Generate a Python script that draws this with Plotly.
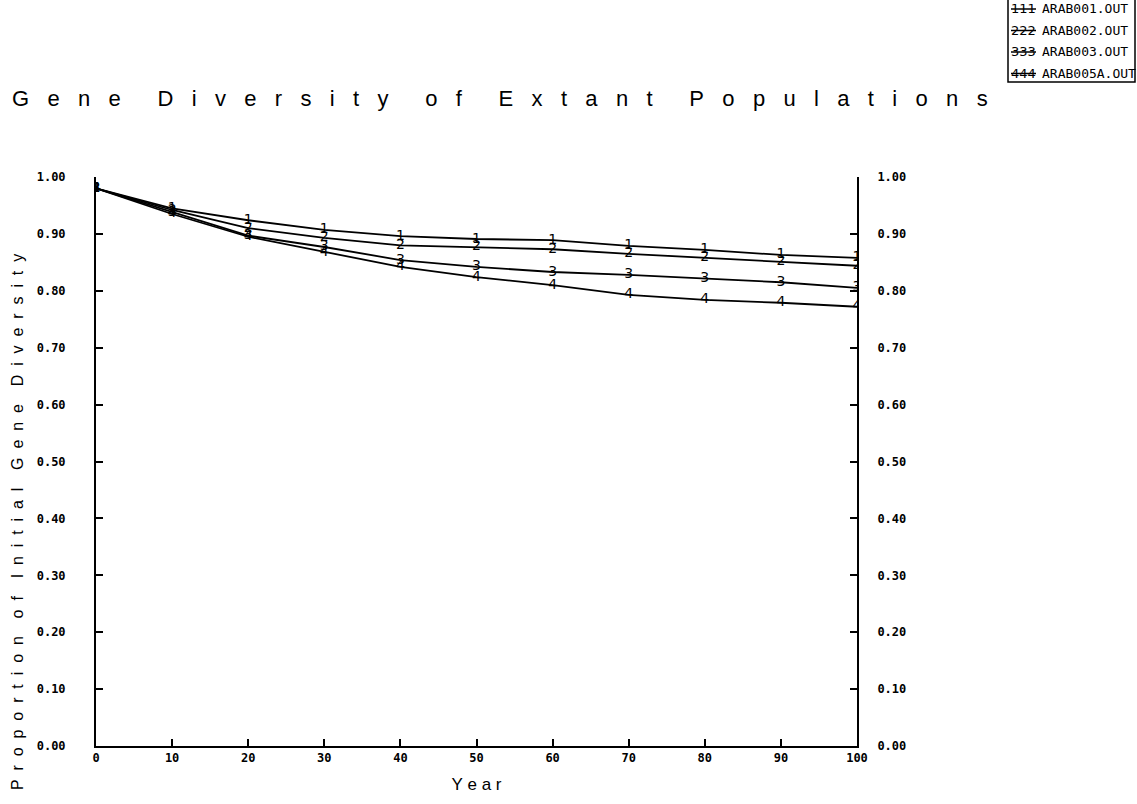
import plotly.graph_objects as go

# ---------------- data ----------------
years = [0, 10, 20, 30, 40, 50, 60, 70, 80, 90, 100]
arab001 = [0.980, 0.945, 0.924, 0.907, 0.896, 0.891, 0.889, 0.879, 0.872, 0.863, 0.858]
arab002 = [0.980, 0.942, 0.910, 0.893, 0.880, 0.877, 0.873, 0.865, 0.858, 0.851, 0.844]
arab003 = [0.980, 0.938, 0.897, 0.877, 0.854, 0.842, 0.833, 0.828, 0.822, 0.815, 0.805]
arab005a = [0.980, 0.935, 0.895, 0.868, 0.842, 0.824, 0.810, 0.793, 0.784, 0.779, 0.772]
series_names = ["ARAB001.OUT", "ARAB002.OUT", "ARAB003.OUT", "ARAB005A.OUT"]
series_marks = ["1", "2", "3", "4"]
y_ticks = [0.0, 0.1, 0.2, 0.3, 0.4, 0.5, 0.6, 0.7, 0.8, 0.9, 1.0]
y_tick_labels = ["0.00", "0.10", "0.20", "0.30", "0.40", "0.50", "0.60", "0.70", "0.80", "0.90", "1.00"]
x_ticks = [0, 10, 20, 30, 40, 50, 60, 70, 80, 90, 100]
x_tick_labels = ["0", "10", "20", "30", "40", "50", "60", "70", "80", "90", "100"]
title_text = "Gene Diversity of Extant Populations"
ytitle_text = "Proportion of Initial Gene Diversity"
xtitle_text = "Year"

# ---------------- layout geometry (pixels) ----------------
W, H = 1137, 804
L, R, T, B = 96, 857, 177, 746
PW, PH = R - L, B - T

def px(x):
    return (x - L) / PW

def py(y):
    return (B - y) / PH

NB = "\u00a0"

def spaced(s, gap=1, wordgap=3):
    words = s.split(" ")
    return (NB * wordgap).join((NB * gap).join(list(w)) for w in words)

fig = go.Figure()
all_series = [arab001, arab002, arab003, arab005a]
for vals, mark, name in zip(all_series, series_marks, series_names):
    fig.add_trace(go.Scatter(
        x=years, y=vals, mode="lines+text", name=name,
        text=[mark] * len(years), textposition="middle center",
        textfont=dict(family="DejaVu Sans", size=14, color="black"),
        line=dict(color="black", width=1.8), showlegend=False,
    ))

# invisible trace for right axis
fig.add_trace(go.Scatter(x=[0], y=[0], yaxis="y2", mode="markers",
                         marker=dict(opacity=0), showlegend=False, hoverinfo="skip"))

tickfont = dict(family="DejaVu Sans Mono", size=12, color="black", weight="bold")
fig.update_layout(
    width=W, height=H,
    margin=dict(l=L, r=W - R, t=T, b=H - B, autoexpand=False),
    paper_bgcolor="white", plot_bgcolor="white",
    xaxis=dict(range=[0, 100], tickvals=x_ticks, ticktext=x_tick_labels,
               ticks="inside", ticklen=7, tickwidth=1.5, tickcolor="black",
               showline=True, linewidth=2, linecolor="black", showgrid=False,
               zeroline=False, tickfont=tickfont,
               title=dict(text=spaced(xtitle_text), standoff=14,
                          font=dict(family="Liberation Sans", size=17, color="black"))),
    yaxis=dict(range=[0, 1], tickvals=y_ticks, ticktext=y_tick_labels,
               ticks="inside", ticklen=7, tickwidth=1.5, tickcolor="black",
               showline=True, linewidth=2, linecolor="black", showgrid=False,
               zeroline=False, tickfont=tickfont, ticklabelstandoff=26),
    yaxis2=dict(range=[0, 1], tickvals=y_ticks, ticktext=y_tick_labels,
                overlaying="y", side="right", anchor="x",
                ticks="inside", ticklen=7, tickwidth=1.5, tickcolor="black",
                showline=True, linewidth=2, linecolor="black", showgrid=False,
                zeroline=False, tickfont=tickfont, ticklabelstandoff=16),
)

# title
fig.add_annotation(x=px(10), y=py(98), xref="paper", yref="paper",
                   xanchor="left", yanchor="middle", showarrow=False,
                   text=spaced(title_text, gap=3, wordgap=6),
                   font=dict(family="Liberation Sans", size=22, color="black"))
# y title
fig.add_annotation(x=px(17), y=py(522), xref="paper", yref="paper",
                   xanchor="center", yanchor="middle", showarrow=False, textangle=-90,
                   text=spaced(ytitle_text, gap=2, wordgap=4),
                   font=dict(family="Liberation Sans", size=16, color="black"))

# legend box
fig.add_shape(type="rect", xref="paper", yref="paper",
              x0=px(1008), x1=px(1135), y0=py(82), y1=py(-2),
              line=dict(color="black", width=1.5), fillcolor="white", layer="above")
for i, (mark, name) in enumerate(zip(series_marks, series_names)):
    yy = 9 + 21.5 * i
    fig.add_shape(type="line", xref="paper", yref="paper",
                  x0=px(1011), x1=px(1036), y0=py(yy), y1=py(yy),
                  line=dict(color="black", width=1.5), layer="above")
    fig.add_annotation(x=px(1023.5), y=py(yy), xref="paper", yref="paper",
                       xanchor="center", yanchor="middle", showarrow=False,
                       text=mark * 3,
                       font=dict(family="DejaVu Sans", size=13, color="black"))
    fig.add_annotation(x=px(1040), y=py(yy), xref="paper", yref="paper",
                       xanchor="left", yanchor="middle", showarrow=False,
                       text=name,
                       font=dict(family="DejaVu Sans Mono", size=13, color="black"))

fig.write_html("out.html")
